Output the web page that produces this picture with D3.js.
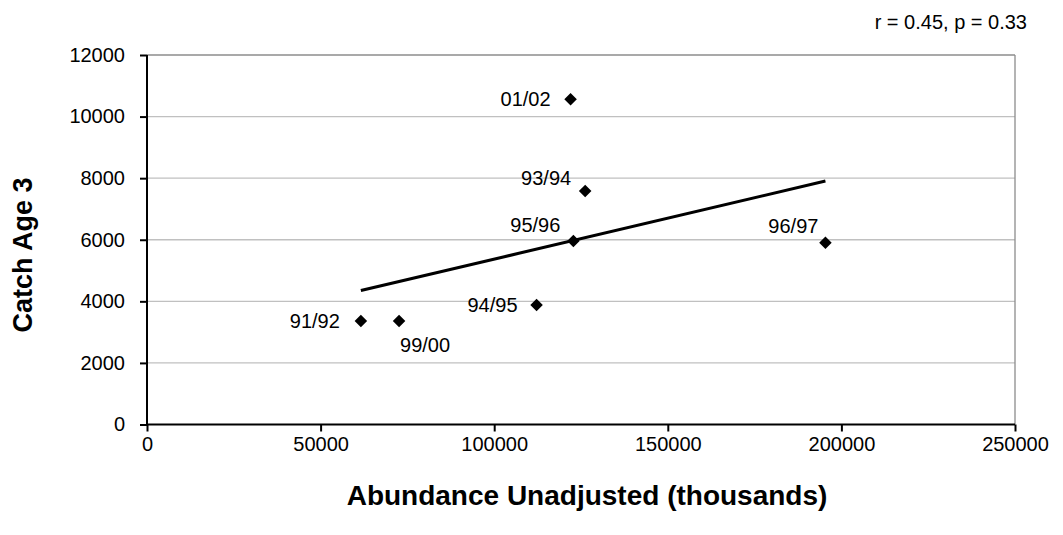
<!DOCTYPE html>
<html>
<head>
<meta charset="utf-8">
<script src="https://cdn.jsdelivr.net/npm/d3@7"></script>
<style>
  html, body { margin: 0; padding: 0; background: #fff; }
  svg { display: block; font-family: Arial, "Liberation Sans", sans-serif; }
</style>
</head>
<body>
<svg id="chart" width="1063" height="535"></svg>
<script>
// Season labels and their abundance / age-3 catch values
const seasons   = ["91/92", "99/00", "94/95", "95/96", "01/02", "93/94", "96/97"];
const abundance = [61600, 72600, 112200, 122800, 122000, 126200, 195400];
const catchAge3 = [3360, 3360, 3880, 5960, 10560, 7580, 5900];

const xTicks = [0, 50000, 100000, 150000, 200000, 250000];
const yTicks = [0, 2000, 4000, 6000, 8000, 10000, 12000];
const statText = "r = 0.45, p = 0.33";

const svg = d3.select("#chart");
const plot = { left: 147, right: 1015, top: 55, bottom: 424.5 };
const FONT = "Arial, 'Liberation Sans', sans-serif";
const fs = 20;

const x = d3.scaleLinear().domain([0, 250000]).range([plot.left, plot.right]);
const y = d3.scaleLinear().domain([0, 12000]).range([plot.bottom, plot.top]);

// horizontal gridlines
svg.append("g").selectAll("line")
  .data(yTicks.filter(d => d > 0))
  .join("line")
  .attr("x1", plot.left).attr("x2", plot.right)
  .attr("y1", d => y(d)).attr("y2", d => y(d))
  .attr("stroke", d => d === 12000 ? "#8c8c8c" : "#c0c0c0")
  .attr("stroke-width", 1.3);

// right border of plot area
svg.append("line")
  .attr("x1", plot.right).attr("x2", plot.right)
  .attr("y1", plot.top).attr("y2", plot.bottom)
  .attr("stroke", "#8c8c8c").attr("stroke-width", 1.3);

// axes
const xAxis = svg.append("g")
  .attr("transform", `translate(0,${plot.bottom})`)
  .call(d3.axisBottom(x).tickValues(xTicks).tickFormat(d3.format("d")).tickSize(7).tickPadding(5));
const yAxis = svg.append("g")
  .attr("transform", `translate(${plot.left},0)`)
  .call(d3.axisLeft(y).tickValues(yTicks).tickFormat(d3.format("d")).tickSize(7).tickPadding(15));

[xAxis, yAxis].forEach(g => {
  g.select(".domain").attr("stroke", "#000").attr("stroke-width", 2);
  g.selectAll(".tick line").attr("stroke", "#000").attr("stroke-width", 2);
  g.selectAll(".tick text").attr("fill", "#000")
    .style("font-size", fs + "px").style("font-family", FONT);
});
xAxis.select(".domain").attr("d", `M${plot.left},0H${plot.right}`);
yAxis.select(".domain").attr("d", `M0,${plot.top}V${plot.bottom}`);

// least-squares trend line
const mx = d3.mean(abundance), my = d3.mean(catchAge3);
let sxy = 0, sxx = 0;
abundance.forEach((a, i) => { sxy += (a - mx) * (catchAge3[i] - my); sxx += (a - mx) ** 2; });
const slope = sxy / sxx, icpt = my - slope * mx;
const x0 = d3.min(abundance), x1 = d3.max(abundance);
svg.append("line")
  .attr("x1", x(x0)).attr("y1", y(icpt + slope * x0))
  .attr("x2", x(x1)).attr("y2", y(icpt + slope * x1))
  .attr("stroke", "#000").attr("stroke-width", 3);

// diamond markers
const pts = seasons.map((s, i) => ({ s, a: abundance[i], c: catchAge3[i] }));
svg.append("g").selectAll("path")
  .data(pts)
  .join("path")
  .attr("transform", d => `translate(${x(d.a)},${y(d.c)})`)
  .attr("d", d3.symbol().type(d3.symbolDiamond2).size(100))
  .attr("fill", "#000");

// point labels
const labelPos = {
  "91/92": { dx: -21, dy: 7, anchor: "end" },
  "99/00": { dx: 1, dy: 31, anchor: "start" },
  "94/95": { dx: -19, dy: 7, anchor: "end" },
  "95/96": { dx: -13, dy: -9, anchor: "end" },
  "01/02": { dx: -20, dy: 7, anchor: "end" },
  "93/94": { dx: -14, dy: -6, anchor: "end" },
  "96/97": { dx: -7, dy: -10, anchor: "end" }
};
svg.append("g").selectAll("text")
  .data(pts)
  .join("text")
  .attr("x", d => x(d.a) + labelPos[d.s].dx)
  .attr("y", d => y(d.c) + labelPos[d.s].dy)
  .attr("text-anchor", d => labelPos[d.s].anchor)
  .style("font-size", fs + "px")
  .text(d => d.s);

// axis titles
svg.append("text")
  .attr("x", 587).attr("y", 505)
  .attr("text-anchor", "middle")
  .style("font-size", "28px").style("font-weight", "bold")
  .text("Abundance Unadjusted (thousands)");
svg.append("text")
  .attr("transform", "translate(32,255) rotate(-90)")
  .attr("text-anchor", "middle")
  .style("font-size", "27px").style("font-weight", "bold")
  .text("Catch Age 3");

// correlation annotation
svg.append("text")
  .attr("x", 1027).attr("y", 29)
  .attr("text-anchor", "end")
  .style("font-size", fs + "px")
  .text(statText);
</script>
</body>
</html>
